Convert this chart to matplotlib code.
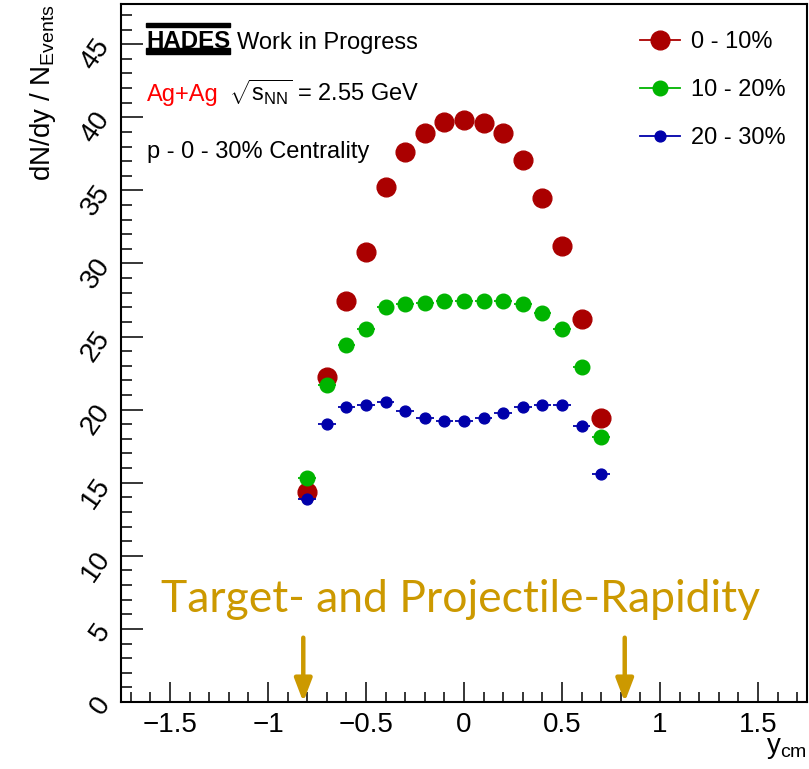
import matplotlib
matplotlib.use('Agg')
import matplotlib.pyplot as plt
from matplotlib.lines import Line2D
from matplotlib.patches import Rectangle
from matplotlib.ticker import MultipleLocator, FuncFormatter

plt.rcParams['font.family'] = ['Liberation Sans', 'DejaVu Sans']
plt.rcParams['mathtext.fontset'] = 'custom'
plt.rcParams['mathtext.rm'] = 'Liberation Sans'
plt.rcParams['mathtext.it'] = 'Liberation Sans:italic'
plt.rcParams['mathtext.bf'] = 'Liberation Sans:bold'

# rapidity bins (centre), dN/dy per centrality class
y_cm = [-0.8, -0.7, -0.6, -0.5, -0.4, -0.3, -0.2, -0.1,
        0.0, 0.1, 0.2, 0.3, 0.4, 0.5, 0.6, 0.7]
c0_10 = [14.4, 22.2, 27.4, 30.8, 35.2, 37.6, 38.9, 39.7,
         39.8, 39.6, 38.9, 37.1, 34.5, 31.2, 26.2, 19.4]
c10_20 = [15.3, 21.7, 24.4, 25.5, 27.0, 27.2, 27.3, 27.4,
          27.4, 27.4, 27.4, 27.2, 26.6, 25.5, 22.9, 18.1]
c20_30 = [13.9, 19.0, 20.2, 20.3, 20.5, 19.9, 19.4, 19.2,
          19.2, 19.4, 19.8, 20.2, 20.3, 20.3, 18.9, 15.6]
labels = ['0 - 10%', '10 - 20%', '20 - 30%']
colors = ['#aa0000', '#00b400', '#0000aa']
msizes = [13.5, 10.5, 7.8]
bin_half = 0.045
y_beam = 0.82   # target / projectile rapidity
gold = '#cc9900'

fig = plt.figure(figsize=(8.09, 7.69), dpi=100)
ax = fig.add_axes([121/809, (769-702)/769, (807-121)/809, (702-4)/769])

series = [c0_10, c10_20, c20_30]
handles = []
for i, (vals, c, ms, lab) in enumerate(zip(series, colors, msizes, labels)):
    ax.errorbar(y_cm, vals, xerr=bin_half, fmt='o', color=c, ms=ms,
                elinewidth=1.3, capsize=0, zorder=3 + i)
    handles.append(Line2D([], [], color=c, marker='o', ms=ms, lw=1.3))

ax.set_xlim(-1.75, 1.75)
ax.set_ylim(0, 47.75)

ax.xaxis.set_major_locator(MultipleLocator(0.5))
ax.xaxis.set_minor_locator(MultipleLocator(0.1))
ax.yaxis.set_major_locator(MultipleLocator(5))
ax.yaxis.set_minor_locator(MultipleLocator(1))
ax.xaxis.set_major_formatter(FuncFormatter(lambda v, p: ('%g' % v).replace('-', '\u2212')))
ax.tick_params(which='both', direction='in', top=False, right=False, width=1.1,
               labelsize=20)
ax.tick_params(axis='x', which='major', length=14.5, pad=7)
ax.tick_params(axis='x', which='minor', length=7.5)
ax.tick_params(axis='y', which='major', length=16, pad=4, labelrotation=55)
ax.tick_params(axis='y', which='minor', length=8)
for s in ax.spines.values():
    s.set_linewidth(1.5)

ax.set_xlabel(r'y$_{\mathrm{cm}}$', fontsize=20, loc='right')
ax.xaxis.set_label_coords(1.0, -0.047)
ax.set_ylabel(r'dN/dy / N$_{\mathrm{Events}}$', fontsize=20, loc='top')
ax.yaxis.set_label_coords(-0.092, 1.0)

# HADES logo
ax.add_patch(Rectangle((0.0364, 0.9665), 0.1226, 0.0065, transform=ax.transAxes,
                       color='black', clip_on=False))
ax.add_patch(Rectangle((0.0364, 0.929), 0.1226, 0.0075, transform=ax.transAxes,
                       color='black', clip_on=False))
ax.text(0.0364, 0.9375, 'HADES', transform=ax.transAxes, fontsize=17.3,
        fontweight='bold', va='baseline', ha='left')
ax.text(0.169, 0.9355, 'Work in Progress', transform=ax.transAxes, fontsize=17,
        va='baseline', ha='left')
ax.text(0.0379, 0.861, 'Ag+Ag', transform=ax.transAxes, fontsize=17,
        color='#ff0000', va='baseline', ha='left')
ax.text(0.157, 0.861, r'$\sqrt{\mathrm{s}_{\mathrm{NN}}}$ = 2.55 GeV',
        transform=ax.transAxes, fontsize=17, va='baseline', ha='left')
ax.text(0.0379, 0.779, 'p - 0 - 30% Centrality', transform=ax.transAxes,
        fontsize=17, va='baseline', ha='left')

ax.legend(handles, labels, loc='upper left', bbox_to_anchor=(0.7566, 0.961),
          frameon=False, fontsize=17, borderpad=0, borderaxespad=0,
          handlelength=1.7, handletextpad=0.45, labelspacing=1.1)

# target / projectile rapidity
ax.text(-0.02, 7.0, 'Target- and Projectile-Rapidity', color=gold, fontsize=32,
        family=['Lato', 'DejaVu Sans'], ha='center', va='center')
for yb in (-y_beam, y_beam):
    ax.annotate('', xy=(yb, 0), xytext=(yb, 4.4),
                arrowprops=dict(arrowstyle='-|>,head_length=0.55,head_width=0.21',
                                color=gold, lw=3.2, mutation_scale=25,
                                shrinkA=0, shrinkB=0))

fig.savefig('out.png', dpi=100)
